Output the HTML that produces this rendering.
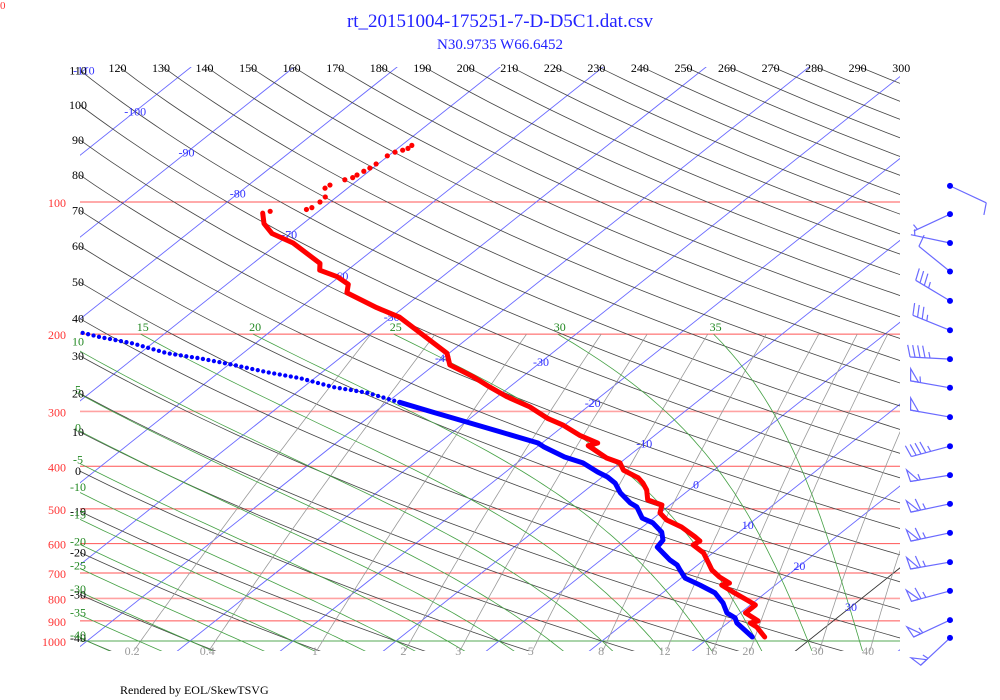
<!DOCTYPE html>
<html><head><meta charset="utf-8"><title>Skew-T</title>
<style>
html,body{margin:0;padding:0;background:#fff;}
svg{display:block;font-family:"Liberation Serif",serif;}
</style></head>
<body>
<svg id="chart" width="1000" height="700" viewBox="0 0 1000 700" xmlns="http://www.w3.org/2000/svg">
<defs><clipPath id="plotclip"><rect x="80" y="67" width="820" height="584"/></clipPath></defs>
<text x="0" y="9" fill="#ff3333" font-size="11">0</text>
<text x="500" y="27" text-anchor="middle" fill="#2222ff" font-size="19" font-family="Liberation Serif, serif">rt_20151004-175251-7-D-D5C1.dat.csv</text>
<text x="500" y="49" text-anchor="middle" fill="#2222ff" font-size="15" font-family="Liberation Serif, serif">N30.9735 W66.6452</text>
<text x="120" y="694" fill="#000" font-size="12">Rendered by EOL/SkewTSVG</text>
<g id="grid" clip-path="url(#plotclip)"></g>
<g id="labels"></g>
<g id="profiles"></g>
<g id="winds"></g>
</svg>
<script>
// ---- data ----
const isobarLevels = [100,200,300,400,500,600,700,800,900,1000];
const isothermValues = [-170,-160,-150,-140,-130,-120,-110,-100,-90,-80,-70,-60,-50,-40,-30,-20,-10,0,10,20,30,40];
const isothermLabelValues = [-110,-100,-90,-80,-70,-60,-50,-40,-30,-20,-10,0,10,20,30];
const dryAdiabatThetas = [-40,-30,-20,-10,0,10,20,30,40,50,60,70,80,90,100,110,120,130,140,150,160,170,180,190,200,210,220,230,240,250,260,270,280,290,300];
const moistAdiabatThetas = [-40,-35,-30,-25,-20,-15,-10,-5,0,5,10,15,20,25,30,35];
const mixingRatios = [0.2,0.4,1,2,3,5,8,12,16,20,30,40];
const mixingLabels = ["0.2","0.4","1","2","3","5","8","12","16","20","30","40"];

const tempP = [979,929,910,900,863,828,807,773,746,738,715,689,664,630,604,592,579,550,530,511,490,477,453,437,425,408,393,383,359,354,340,322,311,293,278,264,250,235,221,183,174,161,154,148,143,138,124,118,112,106,105,104,103,100,97.4,93,91.5,89,88.0,86.8,85.1,83.7,81.9,78.5,77.0,76.2,75.5,74.3];
const tempT = [25.3,23.3,22.2,22.7,20.5,20.5,19.1,16.7,14.8,15.3,13.6,12.0,10.8,9.1,7.1,7.3,6.3,3.8,1.5,0.0,-0.8,-2.8,-4.1,-5.3,-6.4,-8.8,-10.0,-11.9,-15.2,-14.6,-17.3,-20.2,-22.5,-25.6,-29.0,-31.9,-34.8,-38.5,-40.2,-49.2,-52.6,-57.3,-58.2,-60.2,-62.7,-63.5,-68.6,-71.8,-73.8,-75.2,-74.7,-71.4,-71.1,-71.0,-71.1,-72.2,-72.1,-71.3,-70.8,-70.7,-70.5,-70.3,-70.2,-70.1,-69.8,-69.3,-69.0,-69.0];
const dewP = [979,910,886,863,819,777,746,719,689,671,654,611,589,565,538,525,495,485,460,437,423,412,393,381,361,354,334,317,301,286,272,264,252,244,235,227,221,210,203,198];
const dewT = [24.1,20.9,20.1,18.7,17.1,15.1,12.7,10.4,8.9,8.0,6.7,3.9,3.6,2.5,0.5,-1.1,-3.0,-4.1,-6.3,-8.0,-9.5,-11.1,-13.6,-16.1,-19.4,-20.4,-25.4,-29.9,-34.4,-38.8,-43.1,-47.1,-51.4,-55.4,-59.5,-63.6,-67.4,-71.9,-75.9,-78.4];

const windP = [91.9,106.6,124,144,168,196,228,265,309,360,419,487,567,661,769,896,984];
const windDir = [115,245,282,309,301,292,273,280,280,255,261,258,258,260,255,245,227];
const windSpd = [10,5,5,10,35,35,45,55,50,45,55,65,65,65,65,55,55];

// ---- axes ----
const Y0=641, K=190.66, X0=499, BT=10.3, SK=1.258;
function yP(p){return Y0 - K*Math.log(1000/p);}
function xTP(T,p){return X0 + BT*T + SK*(Y0 - yP(p));}
const pTop = 1000*Math.exp(-(Y0-67)/K);
const NS="http://www.w3.org/2000/svg";
const grid=document.getElementById('grid'), labels=document.getElementById('labels');
const profiles=document.getElementById('profiles'), winds=document.getElementById('winds');
function mk(tag, attrs, parent){const e=document.createElementNS(NS,tag);for(const k in attrs)e.setAttribute(k,attrs[k]);parent.appendChild(e);return e;}
function pts(a){return a.map(q=>q[0].toFixed(1)+','+q[1].toFixed(1)).join(' ');}
function txt(x,y,s,fill,anchor,parent,size){const t=mk('text',{x:x.toFixed(1),y:y.toFixed(1),fill:fill,'font-size':size||12,'text-anchor':anchor||'middle'},parent);t.textContent=s;return t;}

// isobars
isobarLevels.forEach(p=>{
  const y=yP(p);
  const l=mk('line',{x1:80,x2:900,y1:y,y2:y,stroke:p===1000?'#55aa55':'#ff5555','stroke-width':p===300||p===800?1.6:1,'stroke-opacity':p===300||p===800?0.55:1},grid);
  
  
  const t=txt(66,y+5,String(p),'#ff3333','end',labels);
  
  
});

// isotherms
isothermValues.forEach(T=>{
  const l=mk('line',{x1:xTP(T,1060),y1:yP(1060),x2:xTP(T,40),y2:yP(40),stroke:T===30?'#333':'#6a6aff','stroke-width':0.9},grid);
  
  
});
isothermLabelValues.forEach(T=>{
  const y = T<=-40 ? 358+(T+40)*4.11 : 362+(T+30)*4.08;
  const x = X0 + BT*T + SK*(Y0-y);
  const t=txt(x,y+4,String(T),'#3333ff','middle',labels,12);
  
  
});

// dry adiabats
dryAdiabatThetas.forEach(th=>{
  const a=[];
  for(let i=0;i<=80;i++){const p=1060*Math.pow(45/1060,i/80);const T=(th+273.15)*Math.pow(p/1000,0.286)-273.15;a.push([xTP(T,p),yP(p)]);}
  const l=mk('polyline',{points:pts(a),fill:'none',stroke:'#444','stroke-width':0.8},grid);
  
  
  const Ttop=(th+273.15)*Math.pow(pTop/1000,0.286)-273.15, xt=xTP(Ttop,pTop);
  let t;
  if(xt>=80){t=txt(xt-2,72,String(th),'#000','middle',labels,12);}
  else{
    let lo=pTop, hi=1060;
    for(let k=0;k<40;k++){const m=Math.sqrt(lo*hi);const Tm=(th+273.15)*Math.pow(m/1000,0.286)-273.15;if(xTP(Tm,m)<80)lo=m;else hi=m;}
    t=txt(78,yP(lo)+4,String(th),'#000','middle',labels,12);
  }
  
  
});

// mixing ratio lines
mixingRatios.forEach((w,i)=>{
  const a=[];
  for(let p=1060;p>=200;p-=10){const e=w*p/(622+w);const L=Math.log(e/6.112);const Td=243.5*L/(17.67-L);a.push([xTP(Td,p),yP(p)]);}
  const l=mk('polyline',{points:pts(a),fill:'none',stroke:'#9a9a9a','stroke-width':0.8},grid);
  
  
  const t=txt(a[1][0]-2,655,mixingLabels[i],'#999','middle',labels,12);
  
  
});

// moist adiabats
function lapse(T,p){const Tc=T-273.15;const es=6.112*Math.exp(17.67*Tc/(Tc+243.5));const rs=0.622*es/(p-es);
  const Rd=287.04,cp=1005.7,Lv=2.501e6;return (Rd*T+Lv*rs)/p/(cp+Lv*Lv*rs*0.622/(Rd*T*T));}
moistAdiabatThetas.forEach(th=>{
  const a=[];
  let T=th+273.15, p=1000;
  let Td=T;for(let q=1000;q<1060;q+=2){const k1=lapse(Td,q);const k2=lapse(Td+k1,q+2);Td+=(k1+k2);}
  a.push([xTP(Td-273.15,1060),yP(1060)]);
  a.push([xTP(T-273.15,1000),yP(1000)]);
  while(p>200){const dp=-2;const k1=lapse(T,p);const k2=lapse(T+k1*dp,p+dp);T+=0.5*(k1+k2)*dp;p+=dp;if(Math.round(p)%10===0)a.push([xTP(T-273.15,p),yP(p)]);}
  const l=mk('polyline',{points:pts(a),fill:'none',stroke:'#44a044','stroke-width':0.8},grid);
  
  
  let t, idx=a.findIndex(q=>q[0]<80);
  if(idx>0){t=txt(78,a[idx][1]+2,String(th),'#228822','middle',labels,12);}
  else{const last=a[a.length-1];t=txt(last[0]+2,331,String(th),'#228822','middle',labels,12);}
  
  
});

// temperature profile
const SOLID_T_MIN_P = 105.5;
const tSolid=[], tDots=[];
tempP.forEach((p,i)=>{const q=[xTP(tempT[i],p),yP(p)];if(p>=SOLID_T_MIN_P)tSolid.push(q);else tDots.push(q);});
const tl=mk('polyline',{points:pts(tSolid),fill:'none',stroke:'#ff0000','stroke-width':5,'stroke-linejoin':'round','stroke-linecap':'round'},profiles);


tDots.forEach(q=>{
  const c=mk('circle',{cx:q[0],cy:q[1],r:2.6,fill:'#ff0000'},profiles);
  
  
});

// dewpoint profile
const SOLID_D_MIN_P = 286;
const dSolid=[], dDot=[];
dewP.forEach((p,i)=>{const q=[xTP(dewT[i],p),yP(p)];if(p>=SOLID_D_MIN_P)dSolid.push(q);if(p<=SOLID_D_MIN_P)dDot.push(q);});
const dl=mk('polyline',{points:pts(dSolid),fill:'none',stroke:'#0000ff','stroke-width':5,'stroke-linejoin':'round','stroke-linecap':'round'},profiles);


const dd=mk('polyline',{points:pts(dDot),fill:'none',stroke:'#0000ff','stroke-width':4.3,'stroke-linecap':'round','stroke-dasharray':'0 5.6'},profiles);



// wind barbs
windP.forEach((p,i)=>{
  const x0=950, y0=yP(p), d=windDir[i]*Math.PI/180, L=40;
  const sx=Math.sin(d), sy=-Math.cos(d);
  const ex=x0+sx*L, ey=y0+sy*L;
  const px=-sy, py=sx;
  const g=mk('g',{},winds);
  
  
  mk('line',{x1:x0,y1:y0,x2:ex,y2:ey,stroke:'#6a6aff','stroke-width':1.2},g);
  mk('circle',{cx:x0,cy:y0,r:3,fill:'#0000ff'},g);
  let s=Math.round(windSpd[i]/5)*5, pos=0;
  while(s>=50){
    const bx=ex-sx*pos, by=ey-sy*pos;
    const cx2=ex-sx*(pos+8), cy2=ey-sy*(pos+8);
    mk('polygon',{points:pts([[bx,by],[bx+px*12+sx*2,by+py*12+sy*2],[cx2,cy2]]),fill:'none',stroke:'#6a6aff','stroke-width':1.2},g);
    pos+=10; s-=50;
  }
  while(s>=10){
    const bx=ex-sx*pos, by=ey-sy*pos;
    mk('line',{x1:bx,y1:by,x2:bx+px*12+sx*3,y2:by+py*12+sy*3,stroke:'#6a6aff','stroke-width':1.2},g);
    pos+=5; s-=10;
  }
  if(s>=5){
    if(pos===0)pos=4;
    const bx=ex-sx*pos, by=ey-sy*pos;
    mk('line',{x1:bx,y1:by,x2:bx+px*6+sx*1.5,y2:by+py*6+sy*1.5,stroke:'#6a6aff','stroke-width':1.2},g);
  }
});
</script>
</body></html>
